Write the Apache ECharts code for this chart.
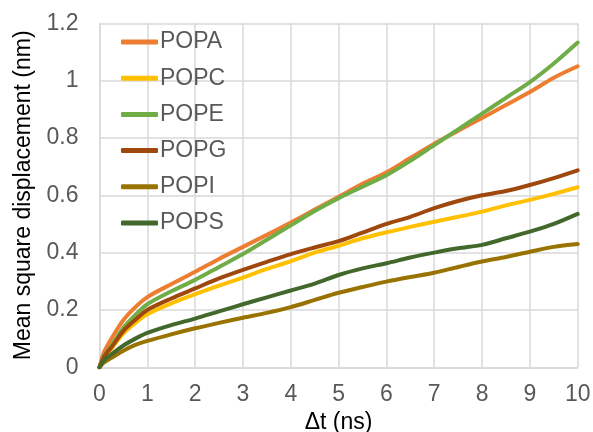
<!DOCTYPE html>
<html>
<head>
<meta charset="utf-8">
<script src="https://cdn.jsdelivr.net/npm/echarts@6/dist/echarts.min.js"></script>
<style>html,body{margin:0;padding:0;background:#fff}#c{width:593px;height:432px}</style>
</head>
<body>
<div id="c"></div>
<script>
const xValues = [0, 0.1, 0.25, 0.5, 0.75, 1, 1.5, 2, 2.5, 3, 3.5, 4, 4.5, 5, 5.5, 6, 6.5, 7, 7.5, 8, 8.5, 9, 9.5, 10];
const seriesNames = ['POPA', 'POPC', 'POPE', 'POPG', 'POPI', 'POPS'];
const POPA = [0, 0.055, 0.10, 0.165, 0.21, 0.245, 0.29, 0.333, 0.378, 0.42, 0.462, 0.505, 0.55, 0.595, 0.64, 0.68, 0.73, 0.78, 0.825, 0.87, 0.915, 0.96, 1.01, 1.05];
const POPC = [0, 0.035, 0.065, 0.118, 0.155, 0.185, 0.223, 0.255, 0.285, 0.313, 0.343, 0.37, 0.40, 0.424, 0.45, 0.471, 0.49, 0.508, 0.525, 0.543, 0.565, 0.584, 0.605, 0.628];
const POPE = [0, 0.04, 0.075, 0.138, 0.183, 0.22, 0.265, 0.305, 0.35, 0.395, 0.445, 0.495, 0.545, 0.59, 0.63, 0.67, 0.72, 0.775, 0.83, 0.885, 0.94, 0.995, 1.06, 1.133];
const POPG = [0, 0.038, 0.07, 0.127, 0.166, 0.2, 0.24, 0.275, 0.31, 0.34, 0.368, 0.395, 0.418, 0.44, 0.47, 0.50, 0.525, 0.555, 0.58, 0.60, 0.615, 0.636, 0.66, 0.687];
const POPI = [0, 0.018, 0.033, 0.058, 0.078, 0.092, 0.115, 0.136, 0.155, 0.173, 0.19, 0.21, 0.235, 0.26, 0.28, 0.299, 0.315, 0.33, 0.35, 0.369, 0.385, 0.403, 0.42, 0.43];
const POPS = [0, 0.025, 0.045, 0.076, 0.1, 0.12, 0.147, 0.17, 0.195, 0.22, 0.244, 0.268, 0.292, 0.322, 0.345, 0.363, 0.383, 0.40, 0.415, 0.427, 0.45, 0.473, 0.50, 0.535];
const colors = ['#ED7D31', '#FFC000', '#70AD47', '#9E480E', '#997300', '#43682B'];
const allData = [POPA, POPC, POPE, POPG, POPI, POPS];

const font = '"Liberation Sans", Arial, sans-serif';
const chart = echarts.init(document.getElementById('c'), null, {renderer: 'canvas'});
chart.setOption({
  animation: false,
  color: colors,
  grid: {left: 99.5, right: 15.3, top: 23.3, bottom: 64.7, containLabel: false, outerBoundsMode: 'none'},
  legend: {
    orient: 'vertical',
    left: 121,
    top: 29,
    padding: 0,
    itemWidth: 37,
    itemHeight: 5,
    itemGap: 10.2,
    icon: 'roundRect',
    textStyle: {fontFamily: font, fontSize: 23, color: '#595959', lineHeight: 26, padding: [0, 0, 0, -3]},
    data: seriesNames
  },
  xAxis: {
    type: 'value', min: 0, max: 10, interval: 1,
    name: 'Δt (ns)', nameLocation: 'middle', nameGap: 43,
    nameTextStyle: {fontFamily: font, fontSize: 23, color: '#000'},
    axisLine: {show: true, lineStyle: {color: '#d9d9d9', width: 1.5}},
    axisTick: {show: false},
    axisLabel: {fontFamily: font, fontSize: 23, color: '#595959', margin: 16},
    splitLine: {show: true, lineStyle: {color: '#d9d9d9', width: 1.5}}
  },
  yAxis: {
    type: 'value', min: 0, max: 1.2, interval: 0.2,
    name: 'Mean square displacement (nm)', nameLocation: 'middle', nameGap: 64,
    nameTextStyle: {fontFamily: font, fontSize: 23, color: '#000'},
    axisLine: {show: true, lineStyle: {color: '#d9d9d9', width: 1.5}},
    axisTick: {show: false},
    axisLabel: {fontFamily: font, fontSize: 23, color: '#595959', margin: 21},
    splitLine: {show: true, lineStyle: {color: '#d9d9d9', width: 1.5}}
  },
  series: seriesNames.map((n, i) => ({
    name: n,
    type: 'line',
    data: xValues.map((x, j) => [x, allData[i][j]]),
    showSymbol: false,
    symbol: 'none',
    smooth: 0.3,
    lineStyle: {width: 4, color: colors[i], cap: 'round'},
    itemStyle: {color: colors[i]}
  }))
});
</script>
</body>
</html>
